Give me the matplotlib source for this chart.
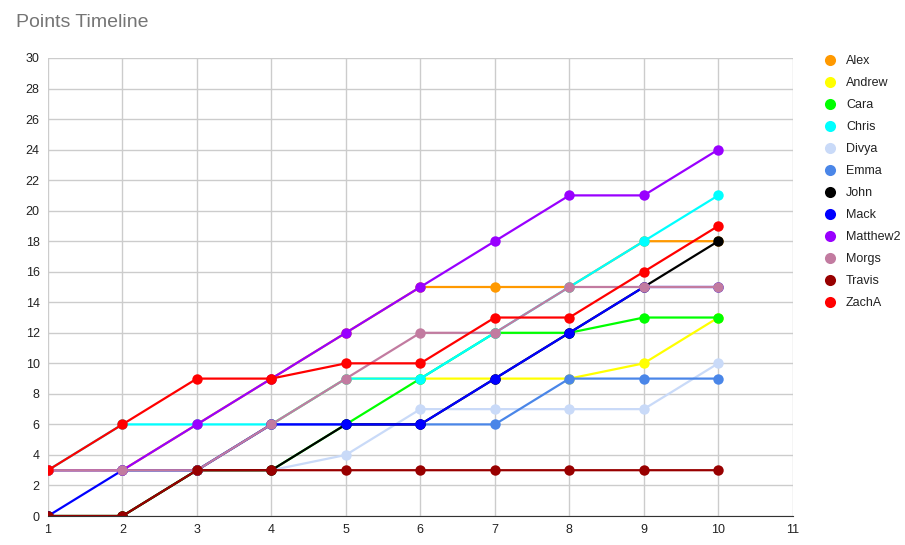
import matplotlib
matplotlib.use("Agg")
import matplotlib.pyplot as plt
from matplotlib.lines import Line2D

plt.rcParams['font.family'] = ['Liberation Sans', 'DejaVu Sans']

# --- dados ---
rodadas = [1, 2, 3, 4, 5, 6, 7, 8, 9, 10]
nomes = ["Alex", "Andrew", "Cara", "Chris", "Divya", "Emma",
         "John", "Mack", "Matthew2", "Morgs", "Travis", "ZachA"]

alex = [3, 3, 6, 9, 12, 15, 15, 15, 18, 18]
andrew = [3, 3, 3, 6, 9, 9, 9, 9, 10, 13]
cara = [0, 0, 3, 3, 6, 9, 12, 12, 13, 13]
chris = [3, 6, 6, 6, 9, 9, 12, 15, 18, 21]
divya = [3, 3, 3, 3, 4, 7, 7, 7, 7, 10]
emma = [3, 3, 3, 6, 6, 6, 6, 9, 9, 9]
john = [0, 0, 3, 3, 6, 6, 9, 12, 15, 18]
mack = [0, 3, 3, 6, 6, 6, 9, 12, 15, 15]
matthew2 = [3, 3, 6, 9, 12, 15, 18, 21, 21, 24]
morgs = [3, 3, 3, 6, 9, 12, 12, 15, 15, 15]
travis = [0, 0, 3, 3, 3, 3, 3, 3, 3, 3]
zacha = [3, 6, 9, 9, 10, 10, 13, 13, 16, 19]

series = [alex, andrew, cara, chris, divya, emma,
          john, mack, matthew2, morgs, travis, zacha]
cores = ["#ff9900", "#ffff00", "#00ff00", "#00ffff", "#c9daf8", "#4a86e8",
         "#000000", "#0000ff", "#9900ff", "#c27ba0", "#980000", "#ff0000"]

fig = plt.figure(figsize=(9.05, 5.45), dpi=100)
ax = fig.add_axes([0.053, 0.0532, 0.823, 0.8404])

for valores, cor in zip(series, cores):
    ax.plot(rodadas, valores, color=cor, linewidth=1.6, marker='o',
            markersize=7.5, markeredgewidth=0, solid_capstyle='round')

ax.set_xlim(1, 11)
ax.set_ylim(0, 30)
ax.set_xticks(range(1, 12))
ax.set_yticks(range(0, 31, 2))
ax.grid(True, color='#cccccc', linewidth=1)
ax.set_axisbelow(True)
for lado in ['top', 'right', 'left']:
    ax.spines[lado].set_visible(False)
ax.spines['bottom'].set_color('#333333')
ax.tick_params(length=0, labelsize=9, colors='#222222', pad=6)

fig.text(0.018, 0.958, "Points Timeline", fontsize=14, color='#757575',
         va='center', ha='left')

handles = [Line2D([], [], linestyle='none', marker='o', markersize=8,
                  markeredgewidth=0, color=c) for c in cores]
fig.legend(handles, nomes, loc='upper left', bbox_to_anchor=(0.903, 0.91),
           frameon=False, fontsize=9, labelspacing=0.8, handletextpad=0.8,
           handlelength=1.0, borderpad=0, labelcolor='#222222')

plt.savefig("out.png", dpi=100)
